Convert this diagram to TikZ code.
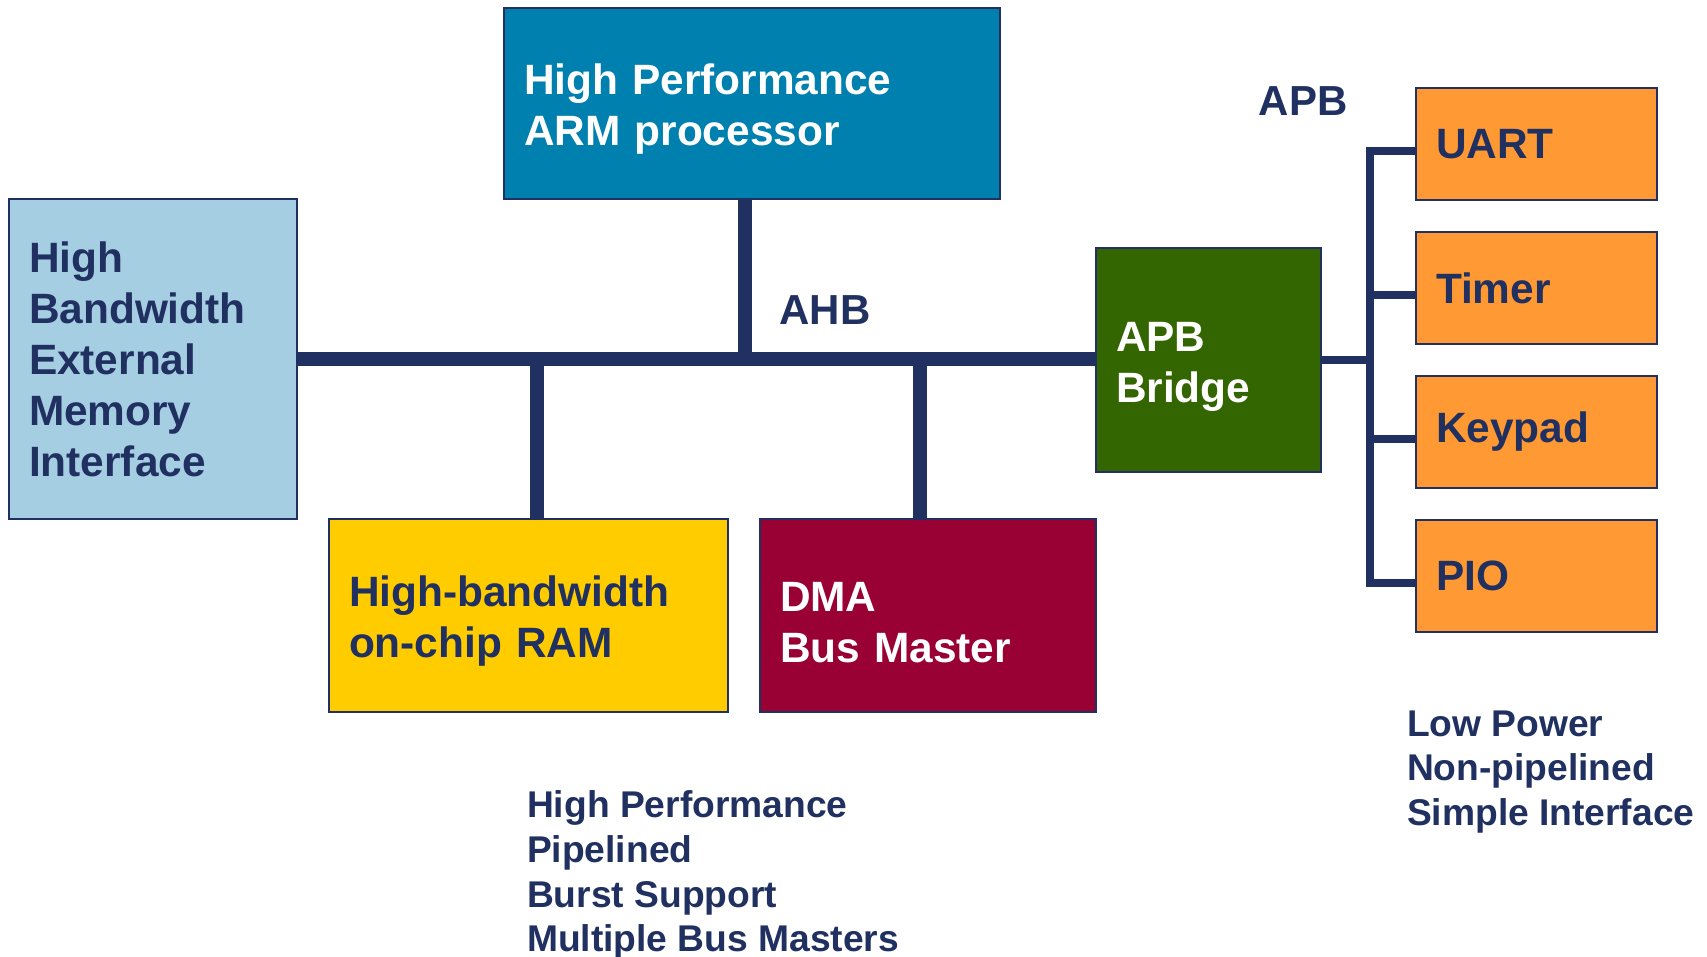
\documentclass[tikz,border=0pt]{standalone}
\usepackage{fontspec}
\setmainfont{Liberation Sans}
\definecolor{navy}{RGB}{32,48,96}
\definecolor{armblue}{RGB}{0,128,174}
\definecolor{memblue}{RGB}{166,206,227}
\definecolor{ramyellow}{RGB}{255,204,0}
\definecolor{dmared}{RGB}{153,0,51}
\definecolor{bridgegreen}{RGB}{51,102,0}
\definecolor{periorange}{RGB}{255,153,51}
\begin{document}
\begin{tikzpicture}[x=.5pt,y=-.5pt,
  block/.style={draw=navy,line width=1pt,inner xsep=10pt,inner ysep=0pt,align=left,
    font=\fontsize{21.2}{25.5}\selectfont\bfseries},
  twoline/.style={text height=21.3pt},
  ahb/.style={navy,line width=7pt},
  apb/.style={navy,line width=4pt},
  note/.style={navy,align=left,anchor=west,font=\fontsize{18.6}{22.4}\selectfont\bfseries}]
  \useasboundingbox (0,0) rectangle (1707,957);
  \node[block,twoline,fill=armblue,text=white,text width=228pt,minimum height=95.5pt] (arm) at (752,103.5)
    {High Performance\\ARM processor};
  \node[block,fill=memblue,text=navy,text width=124pt,minimum height=160pt] (mem) at (153,359)
    {High\\Bandwidth\\External\\Memory\\Interface};
  \node[block,twoline,fill=ramyellow,text=navy,text width=179.5pt,minimum height=96.5pt] (ram) at (528.5,615.5)
    {High-bandwidth\\on-chip RAM};
  \node[block,twoline,fill=dmared,text=white,text width=148pt,minimum height=96.5pt] (dma) at (928,615.5)
    {DMA\\Bus Master};
  \node[block,twoline,fill=bridgegreen,text=white,text width=92.5pt,minimum height=112pt] (bridge) at (1208.5,360)
    {APB\\Bridge};
  \node[block,fill=periorange,text=navy,text width=100.5pt,minimum height=56pt] (uart) at (1536.5,144) {UART};
  \node[block,fill=periorange,text=navy,text width=100.5pt,minimum height=56pt] (timer) at (1536.5,288) {Timer};
  \node[block,fill=periorange,text=navy,text width=100.5pt,minimum height=56pt] (keypad) at (1536.5,432) {Keypad};
  \node[block,fill=periorange,text=navy,text width=100.5pt,minimum height=56pt] (pio) at (1536.5,576) {PIO};
  \coordinate (tarm) at (745,359); \coordinate (tram) at (537,359);
  \coordinate (tdma) at (920,359); \coordinate (apbx) at (1370,0);
  \draw[ahb] (mem.east) -- (mem.east -| bridge.west);
  \draw[ahb] (tarm |- arm.south) -- (tarm);
  \draw[ahb] (tram) -- (tram |- ram.north);
  \draw[ahb] (tdma) -- (tdma |- dma.north);
  \draw[apb] (bridge.east) -- (bridge.east -| apbx);
  \draw[apb,line cap=rect] ([yshift=-3.5pt]uart.west -| apbx) -- ([yshift=-3.5pt]pio.west -| apbx);
  \foreach \n in {uart,timer,keypad,pio}
    \draw[apb] ([yshift=-3.5pt]\n.west -| apbx) -- ([yshift=-3.5pt]\n.west);
  \node[navy,font=\fontsize{21}{25}\selectfont\bfseries] (ahblabel) at (825,310) {AHB};
  \node[navy,font=\fontsize{21}{25}\selectfont\bfseries] (apblabel) at (1303,101) {APB};
  \node[note] (ahbnote) at (520,875) {High Performance\\Pipelined\\Burst Support\\Multiple Bus Masters};
  \node[note] (apbnote) at (1400,772) {Low Power\\Non-pipelined\\Simple Interface};
\end{tikzpicture}
\end{document}
